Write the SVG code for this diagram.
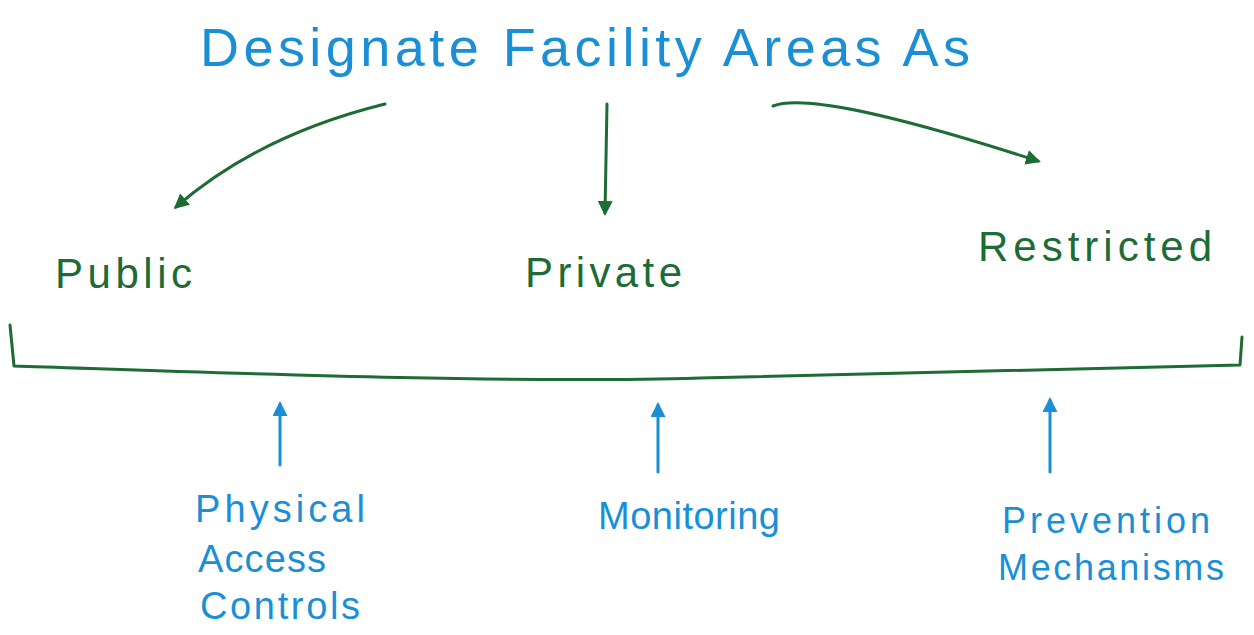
<svg xmlns="http://www.w3.org/2000/svg" width="1254" height="635" viewBox="0 0 1254 635">
  <defs>
    <style>
      .blue { fill: #1b8fd6; font-family: "Liberation Sans", "DejaVu Sans", sans-serif; }
      .green { fill: #1d6b35; font-family: "Liberation Sans", "DejaVu Sans", sans-serif; }
      .gline { fill: none; stroke: #1d6b35; stroke-width: 3; stroke-linecap: round; stroke-linejoin: round; }
      .bline { fill: none; stroke: #1b8fd6; stroke-width: 3; stroke-linecap: round; stroke-linejoin: round; }
    </style>
    <marker id="headGreen" viewBox="0 0 10 10" refX="8" refY="5" markerWidth="5" markerHeight="5" orient="auto-start-reverse" markerUnits="strokeWidth">
      <path d="M0,0 L10,5 L0,10 Z" fill="#1d6b35"/>
    </marker>
    <marker id="headBlue" viewBox="0 0 10 10" refX="8" refY="5" markerWidth="5" markerHeight="5" orient="auto-start-reverse" markerUnits="strokeWidth">
      <path d="M0,0 L10,5 L0,10 Z" fill="#1b8fd6"/>
    </marker>
  </defs>

  <rect width="1254" height="635" fill="#ffffff"/>

  <!-- heading -->
  <g id="title">
    <text class="blue" x="200" y="66" font-size="54" textLength="770" lengthAdjust="spacing">Designate Facility Areas As</text>
  </g>

  <!-- area categories -->
  <g id="public">
    <text class="green" x="55" y="288" font-size="42" textLength="137" lengthAdjust="spacing">Public</text>
  </g>
  <g id="private">
    <text class="green" x="525" y="287" font-size="42" textLength="157" lengthAdjust="spacing">Private</text>
  </g>
  <g id="restricted">
    <text class="green" x="978" y="261" font-size="42" textLength="234" lengthAdjust="spacing">Restricted</text>
  </g>

  <!-- supporting controls -->
  <g id="physical-access-controls">
    <text class="blue" font-size="38">
      <tspan x="195" y="522" textLength="170" lengthAdjust="spacing">Physical</tspan>
      <tspan x="198" y="572" textLength="128" lengthAdjust="spacing">Access</tspan>
      <tspan x="200" y="619" textLength="160" lengthAdjust="spacing">Controls</tspan>
    </text>
  </g>
  <g id="monitoring">
    <text class="blue" x="598" y="529" font-size="38" textLength="182" lengthAdjust="spacing">Monitoring</text>
  </g>
  <g id="prevention-mechanisms">
    <text class="blue" font-size="36">
      <tspan x="1002" y="533" textLength="208" lengthAdjust="spacing">Prevention</tspan>
      <tspan x="998" y="580" textLength="226" lengthAdjust="spacing">Mechanisms</tspan>
    </text>
  </g>

  <!-- connectors -->
  <g id="connectors">
    <path class="gline" d="M385,104 C300,125 230,160 176,207" marker-end="url(#headGreen)"/>
    <path class="gline" d="M607,104 L605,213" marker-end="url(#headGreen)"/>
    <path class="gline" d="M773,106 C800,95 880,110 1038,161" marker-end="url(#headGreen)"/>
    <path class="gline" d="M10,325 L14,366 C200,372 500,384 700,378 C900,374 1100,370 1240,365 L1242,337"/>
    <path class="bline" d="M280,465 L280,404" marker-end="url(#headBlue)"/>
    <path class="bline" d="M658,472 L658,405" marker-end="url(#headBlue)"/>
    <path class="bline" d="M1050,472 L1050,400" marker-end="url(#headBlue)"/>
  </g>
</svg>
